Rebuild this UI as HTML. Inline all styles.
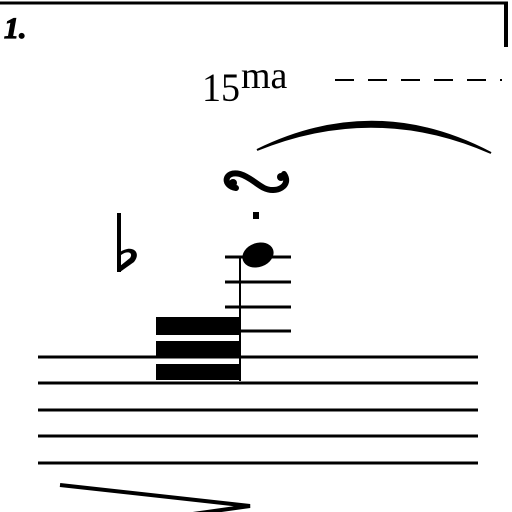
<!DOCTYPE html>
<html><head><meta charset="utf-8"><style>
html,body{margin:0;padding:0;background:#fff;width:512px;height:512px;overflow:hidden}
</style></head><body>
<svg width="512" height="512" viewBox="0 0 512 512" xmlns="http://www.w3.org/2000/svg">
<rect width="512" height="512" fill="#fff"/>
<g>
<line x1="0" y1="3" x2="508" y2="3" stroke="#000" stroke-width="3"/>
<line x1="506" y1="2" x2="506" y2="47" stroke="#000" stroke-width="4"/>
<text x="4" y="38" font-family="Liberation Serif, serif" font-weight="bold" font-style="italic" font-size="30" stroke="#000" stroke-width="1.2">1.</text>
</g>
<g>
<text x="202" y="101" font-family="Liberation Serif, serif" font-size="40" textLength="38" lengthAdjust="spacingAndGlyphs">15</text>
<text x="241" y="88" font-family="Liberation Serif, serif" font-size="38">ma</text>
<line x1="335" y1="80" x2="502" y2="80" stroke="#000" stroke-width="2" stroke-dasharray="19,14"/>
</g>
<path d="M257 150 Q375 92 491 153 Q375 102 257 150 Z" stroke="#000" stroke-width="2" fill="#000"/>
<g fill="none" stroke="#000" stroke-width="6" stroke-linecap="round">
<path d="M236 188 C222 186 224 170 240 174 C250 177 256 184 264 188 C276 194 292 186 284 174"/>
<circle cx="233" cy="183" r="4" fill="#000" stroke="none"/>
<circle cx="281" cy="177" r="4" fill="#000" stroke="none"/>
</g>
<rect x="253" y="212" width="6" height="7" fill="#000"/>
<g>
<rect x="117" y="213" width="4" height="59" fill="#000"/>
<path d="M120 252 C132 244 142 252 134 262 L120 272 L120 266 L130 258 C134 252 126 250 120 256 Z" fill="#000"/>
</g>
<g stroke="#000" stroke-width="3">
<line x1="225" y1="257" x2="291" y2="257"/>
<line x1="225" y1="282" x2="291" y2="282"/>
<line x1="225" y1="307" x2="291" y2="307"/>
<line x1="239" y1="331" x2="291" y2="331"/>
</g>
<ellipse cx="258" cy="255" rx="16" ry="12" transform="rotate(-20 258 255)" fill="#000"/>
<line x1="240" y1="256" x2="240" y2="381" stroke="#000" stroke-width="2"/>
<g fill="#000">
<rect x="156" y="317" width="84" height="18"/>
<rect x="156" y="341" width="84" height="15"/>
<rect x="156" y="364" width="84" height="16"/>
</g>
<g stroke="#000" stroke-width="3">
<line x1="38" y1="357" x2="478" y2="357"/>
<line x1="38" y1="383" x2="478" y2="383"/>
<line x1="38" y1="410" x2="478" y2="410"/>
<line x1="38" y1="436" x2="478" y2="436"/>
<line x1="38" y1="463" x2="478" y2="463"/>
</g>
<g stroke="#000" stroke-width="4" fill="none">
<polyline points="60,485 250,506 150,520"/>
</g>
</svg>
</body></html>
